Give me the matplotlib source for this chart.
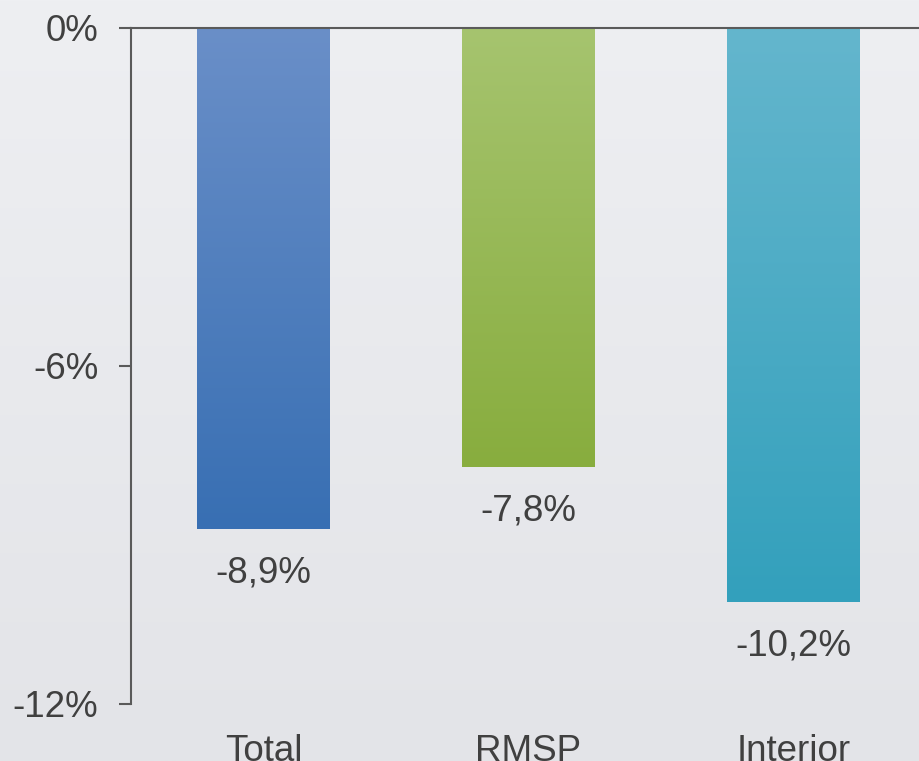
import numpy as np
import matplotlib
matplotlib.use("Agg")
import matplotlib.pyplot as plt
from matplotlib.colors import LinearSegmentedColormap

categories = ["Total", "RMSP", "Interior"]
values = [-8.9, -7.8, -10.2]
labels = ["-8,9%", "-7,8%", "-10,2%"]
yticks = [0, -6, -12]
ytick_labels = ["0%", "-6%", "-12%"]
colors_top = ["#6a8fc8", "#a6c46f", "#64b6cd"]
colors_bottom = ["#386fb3", "#88ad3e", "#33a0bc"]

plt.rcParams['font.family'] = ['Liberation Sans', 'DejaVu Sans']

fig = plt.figure(figsize=(9.2, 7.61), dpi=100)

# background gradient
bg = fig.add_axes([0, 0, 1, 1], zorder=-10)
bg.axis('off')
grad = np.linspace(0, 1, 256).reshape(-1, 1)
bg_cmap = LinearSegmentedColormap.from_list("bg", ["#eeeff2", "#e3e4e8"])
bg.imshow(grad, aspect='auto', cmap=bg_cmap, extent=[0, 1, 0, 1], origin='upper')

W, H = 920, 761
left = 131 / W
top = 1 - 27.5 / H
bottom = 1 - 703.5 / H
ax = fig.add_axes([left, bottom, 1 - left, top - bottom])
ax.patch.set_alpha(0)

x = np.arange(len(categories))
bars = ax.bar(x, values, width=0.5, color='none', edgecolor='none')
for i, b in enumerate(bars):
    cmap = LinearSegmentedColormap.from_list("b%d" % i, [colors_top[i], colors_bottom[i]])
    bx, by = b.get_x(), b.get_y()
    bw, bh = b.get_width(), b.get_height()
    im = ax.imshow(grad, aspect='auto', cmap=cmap,
                   extent=[bx, bx + bw, by + bh, by], origin='upper', zorder=2)
    im.set_clip_path(b)
    ax.annotate(labels[i], (b.get_x() + bw / 2, values[i]), xytext=(0, -19),
                textcoords='offset points', ha='center', va='top',
                fontsize=26.5, color='#404040')

ax.set_xlim(-0.5, 2.5 - 6 / 265)
ax.set_ylim(-12, 0)
ax.set_yticks(yticks)
ax.set_yticklabels(ytick_labels)
ax.set_xticks(x)
ax.set_xticklabels(categories)

for s in ['right', 'bottom']:
    ax.spines[s].set_visible(False)
for s in ['left', 'top']:
    ax.spines[s].set_color('#5a5a5a')
    ax.spines[s].set_linewidth(1.5)

ax.tick_params(axis='y', direction='out', length=8.5, width=1.5, color='#5a5a5a',
               pad=15, labelsize=26.5, labelcolor='#404040')
ax.tick_params(axis='x', length=0, pad=22, labelsize=26.5, labelcolor='#404040')

fig.savefig("out.png", dpi=100)
